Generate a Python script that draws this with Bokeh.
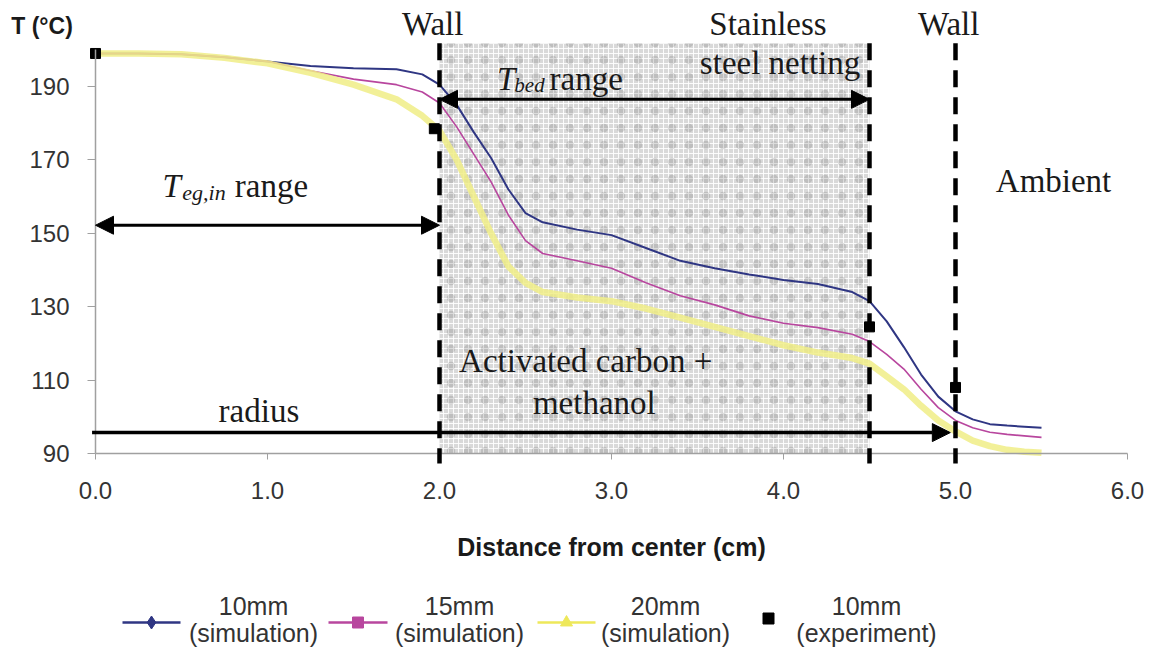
from bokeh.plotting import figure
from bokeh.layouts import column
from bokeh.models import Range1d, FixedTicker, Label, Arrow, NormalHead
from bokeh.core.properties import value
from bokeh.embed import file_html
from bokeh.resources import INLINE

# ---------------- data ----------------
distance_cm = [0.0, 0.25, 0.5, 0.75, 1.0, 1.25, 1.5, 1.75, 1.9, 2.0, 2.1, 2.2,
               2.3, 2.4, 2.5, 2.6, 2.8, 3.0, 3.2, 3.4, 3.6, 3.8, 4.0, 4.2,
               4.4, 4.5, 4.6, 4.7, 4.8, 4.9, 5.0, 5.1, 5.2, 5.3, 5.4, 5.5]
t_10mm_sim = [199, 199, 198.8, 198, 196.8, 195.6, 195, 194.7, 193.3, 190.5,
              185, 177.5, 170.5, 162, 155.5, 153, 151, 149.5, 146, 142.5,
              140.5, 138.8, 137.3, 136.2, 134, 131.5, 126, 119, 111.5, 105.5,
              101.5, 99.3, 98, 97.6, 97.3, 97.0]
t_15mm_sim = [199, 199, 198.8, 198, 196.8, 194.3, 192, 190.5, 188.5, 185.5,
              179, 171.5, 164, 155, 148, 144.5, 142.5, 140.5, 136.5, 133,
              130.5, 127.5, 125.5, 124.3, 122.5, 120.5, 117, 113, 107.5, 102.5,
              99, 97, 95.8, 95.2, 94.8, 94.4]
t_20mm_sim = [199, 199, 198.8, 197.8, 196.3, 193.7, 190.5, 186.5, 182, 178,
              170, 160, 150, 141, 136.5, 134, 132.5, 131.5, 129.5, 127,
              124.5, 122, 119.5, 117.5, 116, 114.5, 111, 107.5, 103, 99,
              96, 93.5, 92, 91, 90.5, 90.2]
exp_distance_cm = [0.0, 1.97, 4.5, 5.0]
t_10mm_exp = [199, 178.5, 124.5, 108]

x_ticks = [0, 1, 2, 3, 4, 5, 6]
x_tick_labels = ["0.0", "1.0", "2.0", "3.0", "4.0", "5.0", "6.0"]
y_ticks = [90, 110, 130, 150, 170, 190]

inner_wall = 2.0
netting = 4.5
outer_wall = 5.0
series_labels = ["10mm\n(simulation)", "15mm\n(simulation)",
                 "20mm\n(simulation)", "10mm\n(experiment)"]

NAVY = "#2f3683"
MAGENTA = "#b8469e"
YELLOW = "#f0ed86"
SERIF = "Liberation Serif"
SANS = "Liberation Sans"

TOP = 201.8

p = figure(width=1150, height=585, output_backend="svg", toolbar_location=None,
           x_range=Range1d(-95 / 172, 1055 / 172),
           y_range=Range1d(190 - 499 / 3.67, 190 + 86 / 3.67),
           min_border=0)
p.title.visible = False
p.outline_line_color = None
p.xgrid.visible = False
p.ygrid.visible = False

# shaded bed region
p.quad(left=[inner_wall], right=[netting], bottom=[90], top=[TOP],
       fill_color="#d9d9d9", line_color=None,
       hatch_pattern="+", hatch_color="#ffffff", hatch_scale=5,
       hatch_weight=1, hatch_alpha=0.9)
p.quad(left=[inner_wall], right=[netting], bottom=[90], top=[TOP],
       fill_alpha=0, line_color=None,
       hatch_pattern=".", hatch_color="#222222", hatch_scale=17,
       hatch_weight=0.6, hatch_alpha=0.15)

# curves
r10 = p.line(distance_cm, t_10mm_sim, line_color=NAVY, line_width=2)
r15 = p.line(distance_cm, t_15mm_sim, line_color=MAGENTA, line_width=1.6)
r20 = p.line(distance_cm, t_20mm_sim, line_color=YELLOW, line_width=6.5,
             line_alpha=0.85)

# walls (dashed)
for xw in [inner_wall, netting, outer_wall]:
    p.add_layout(Arrow(end=None, x_start=xw, y_start=TOP, x_end=xw,
                       y_end=87.3, line_width=4.5, line_dash="17 10",
                       line_color="black"))

rexp = p.scatter(exp_distance_cm, t_10mm_exp, marker="square", size=10,
                 color="black")

# arrows
def head():
    return NormalHead(size=18, fill_color="black", line_color="black")

p.add_layout(Arrow(start=head(), end=head(), x_start=0.0, y_start=152.2,
                   x_end=inner_wall, y_end=152.2, line_width=3))
p.add_layout(Arrow(start=head(), end=head(), x_start=inner_wall,
                   y_start=186.5, x_end=netting, y_end=186.5, line_width=3))
p.add_layout(Arrow(end=head(), x_start=-0.02, y_start=95.7, x_end=4.97,
                   y_end=95.7, line_width=3.5))

# texts
def lab(x, y, text, size="33px", align="center", style="normal",
        font=SERIF, color="#1a1a1a"):
    p.add_layout(Label(x=x, y=y, text=text, text_font=font,
                       text_font_size=size, text_align=align,
                       text_baseline="alphabetic", text_font_style=style,
                       text_color=color))

lab(1.96, 207.0, "Wall")
lab(3.91, 207.0, "Stainless")
lab(3.98, 196.3, "steel netting")
lab(4.96, 207.0, "Wall")
lab(5.57, 164.3, "Ambient")
lab(2.85, 115.1, "Activated carbon +")
lab(2.90, 103.7, "methanol")
lab(0.95, 101.5, "radius")
# T_eg,in range
lab(0.39, 162.9, "T", align="left", style="italic")
lab(0.505, 161.2, "eg,in", size="22px", align="left", style="italic")
lab(0.81, 162.9, "range", align="left")
# T_bed range
lab(2.335, 192.1, "T", align="left", style="italic")
lab(2.435, 190.5, "bed", size="21px", align="left", style="italic")
lab(2.64, 192.1, "range", align="left")
# y-axis title
lab(-0.49, 206.5, "T (°C)", size="23px", align="left", style="bold",
    font=SANS)

# axes
xa = p.xaxis[0]
xa.fixed_location = 90
xa.ticker = FixedTicker(ticks=x_ticks)
xa.major_label_overrides = {t: l for t, l in zip(x_ticks, x_tick_labels)}
xa.bounds = (0, 6)
xa.axis_line_color = "#a0a0a0"
xa.axis_line_width = 1.5
xa.major_tick_line_color = "#a0a0a0"
xa.major_tick_out = 6
xa.major_tick_in = 0
xa.minor_tick_line_color = None
xa.major_label_text_font = SANS
xa.major_label_text_font_size = "24px"
xa.major_label_text_color = "#333333"
xa.major_label_standoff = 22
xa.axis_label = "Distance from center (cm)"
xa.axis_label_text_font = SANS
xa.axis_label_text_font_size = "25px"
xa.axis_label_text_font_style = "bold"
xa.axis_label_text_color = "#1a1a1a"
xa.axis_label_standoff = 31

ya = p.yaxis[0]
ya.fixed_location = 0
ya.ticker = FixedTicker(ticks=y_ticks)
ya.bounds = (90, 200)
ya.axis_line_color = "#a0a0a0"
ya.axis_line_width = 1.5
ya.major_tick_line_color = "#a0a0a0"
ya.major_tick_out = 8
ya.major_tick_in = 0
ya.minor_tick_line_color = None
ya.major_label_text_font = SANS
ya.major_label_text_font_size = "24px"
ya.major_label_text_color = "#333333"
ya.major_label_standoff = 18

# ---------------- legend (separate strip) ----------------
leg = figure(width=1150, height=64, output_backend="svg", toolbar_location=None,
             x_range=Range1d(0, 1150), y_range=Range1d(64, 0),
             min_border=0)
leg.title.visible = False
leg.axis.visible = False
leg.grid.visible = False
leg.outline_line_color = None

leg_line_x0 = [122, 328, 537]
leg_line_x1 = [180, 387, 595]
leg_colors = [NAVY, MAGENTA, "#eee85a"]
leg_markers = ["diamond", "square", "triangle"]
leg_sizes = [13, 11, 12]
for x0, x1, c, m, s in zip(leg_line_x0, leg_line_x1, leg_colors, leg_markers,
                           leg_sizes):
    leg.line([x0, x1], [37, 37], line_color=c, line_width=2.5)
    leg.scatter([(x0 + x1) / 2], [37], marker=m, size=s, color=c)
leg.scatter([768], [33], marker="square", size=11, color="black")

leg_text_x = [253, 459, 665, 866]
tops = [s.split("\n")[0] for s in series_labels]
bottoms = [s.split("\n")[1] for s in series_labels]
leg.text(x=leg_text_x, y=[20] * 4, text=tops, text_align="center",
         text_baseline="middle", text_font=value(SANS),
         text_font_size="25px", text_color="#333333")
leg.text(x=leg_text_x, y=[47] * 4, text=bottoms, text_align="center",
         text_baseline="middle", text_font=value(SANS),
         text_font_size="25px", text_color="#333333")

layout = column(p, leg, spacing=0)
open("out.html", "w").write(file_html(layout, INLINE))
